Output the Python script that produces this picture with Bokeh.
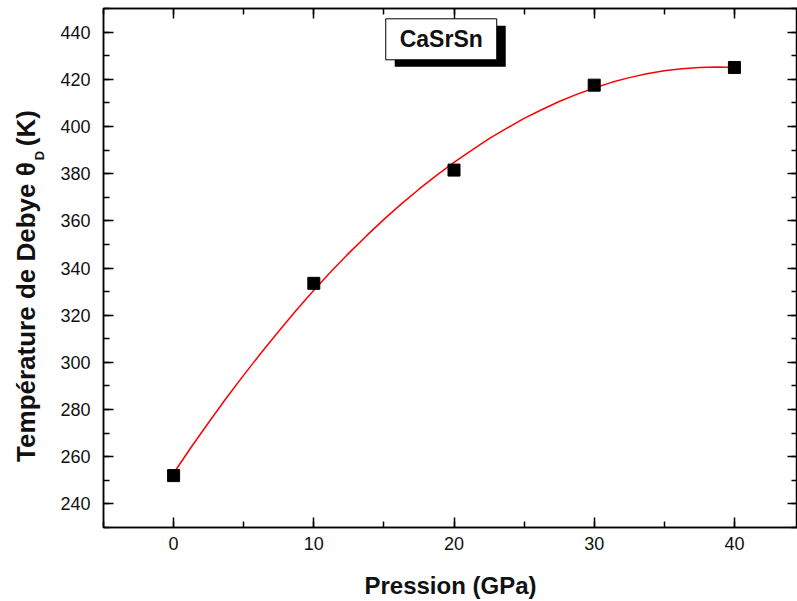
from bokeh.plotting import figure
from bokeh.models import Range1d, LinearAxis, SingleIntervalTicker, Label
from bokeh.layouts import row
from bokeh.embed import file_html
from bokeh.resources import INLINE

# measured points
pressure = [0, 10, 20, 30, 40]
theta_d = [252.0, 333.5, 381.5, 417.5, 425.0]

# red fitted curve
fit_pressure = [0, 1.25, 2.5, 3.75, 5, 6.25, 7.5, 8.75, 10, 11.25, 12.5, 13.75, 15, 16.25, 17.5,
                18.75, 20, 21.25, 22.5, 23.75, 25, 26.25, 27.5, 28.75, 30, 31.25, 32.5, 33.75,
                35, 36.25, 37.5, 38.75, 40]
fit_theta = [253.0, 264.0, 274.5, 284.8, 294.6, 304.1, 313.2, 322.1, 330.6, 338.6, 346.3, 353.6,
             360.6, 367.2, 373.4, 379.3, 384.8, 389.9, 394.8, 399.2, 403.4, 407.1, 410.6, 413.6,
             416.3, 418.7, 420.7, 422.3, 423.6, 424.5, 425.0, 425.2, 425.0]

x_ticks = [0, 10, 20, 30, 40]
y_ticks = [240, 260, 280, 300, 320, 340, 360, 380, 400, 420, 440]

FONT = "Liberation Sans"
LAB_W = 50

p = figure(width=797 - LAB_W, height=601, output_backend="svg", toolbar_location=None,
           x_range=Range1d(-5, 44.5), y_range=Range1d(230, 450),
           x_axis_location=None, y_axis_location=None,
           min_border_left=103 - LAB_W, min_border_right=0, min_border_top=8, min_border_bottom=74,
           background_fill_color="white", border_fill_color="white")

p.xgrid.grid_line_color = None
p.ygrid.grid_line_color = None
p.outline_line_color = "black"
p.outline_line_width = 1.5

bottom = LinearAxis()
left = LinearAxis()
top = LinearAxis()
right = LinearAxis()
p.add_layout(bottom, "below")
p.add_layout(left, "left")
p.add_layout(top, "above")
p.add_layout(right, "right")


def style(ax, interval, ticks, show_labels):
    ax.ticker = SingleIntervalTicker(interval=interval, num_minor_ticks=2)
    ax.axis_line_color = "black"
    ax.axis_line_width = 1.5
    ax.major_tick_in = 10
    ax.major_tick_out = 0
    ax.minor_tick_in = 6
    ax.minor_tick_out = 0
    ax.major_tick_line_color = "black"
    ax.minor_tick_line_color = "black"
    ax.major_tick_line_width = 1.5
    ax.minor_tick_line_width = 1.5
    ax.major_label_text_font = FONT
    ax.major_label_text_color = "#111111"
    ax.major_label_text_font_size = "18px"
    if not show_labels:
        ax.major_label_overrides = {t: "" for t in ticks}
        ax.major_label_standoff = 0


style(bottom, 10, x_ticks, True)
style(top, 10, x_ticks, False)
style(left, 20, y_ticks, True)
style(right, 20, y_ticks, False)

bottom.major_label_standoff = 9
left.major_label_standoff = 13

bottom.axis_label = "Pression (GPa)"
bottom.axis_label_text_font = FONT
bottom.axis_label_text_font_style = "bold"
bottom.axis_label_text_font_size = "24px"
bottom.axis_label_text_color = "#111111"
bottom.axis_label_standoff = 19

# data
p.line(fit_pressure, fit_theta, line_color="#ff0000", line_width=1.5)
p.scatter(pressure, theta_d, marker="square", size=12, fill_color="black", line_color="black")

# title box with shadow
box_x, box_y = 19.09, 436.94
p.rect(x=[box_x + 0.64], y=[box_y - 2.97], width=111, height=41,
       width_units="screen", height_units="screen", fill_color="black", line_color=None)
p.rect(x=[box_x], y=[box_y], width=111, height=41,
       width_units="screen", height_units="screen", fill_color="white", line_color="black",
       line_width=1)
p.add_layout(Label(x=box_x, y=box_y, text="CaSrSn", text_align="center", text_baseline="middle",
                   text_font=FONT, text_font_style="bold", text_font_size="23px",
                   text_color="#111111"))

# narrow strip on the left holding the y axis title (with subscript)
lab = figure(width=LAB_W, height=601, output_backend="svg", toolbar_location=None,
             x_range=Range1d(0, LAB_W), y_range=Range1d(601, 0),
             x_axis_location=None, y_axis_location=None,
             min_border=0, outline_line_color=None,
             background_fill_color="white", border_fill_color="white")
lab.xgrid.grid_line_color = None
lab.ygrid.grid_line_color = None

ylab_y = 178
common = dict(y=ylab_y, angle=90, angle_units="deg", text_font=FONT,
              text_font_style="bold", text_color="#111111", text_baseline="middle")
lab.add_layout(Label(x=25, text="Température de Debye θ", text_align="right",
                     text_font_size="26px", **common))
lab.add_layout(Label(x=39, text="D", text_align="left", y_offset=2,
                     text_font_size="13px", **common))
lab.add_layout(Label(x=25, text=" (K)", text_align="left", y_offset=16,
                     text_font_size="26px", **common))

layout = row(lab, p, spacing=0)
open("out.html", "w").write(file_html(layout, INLINE))
